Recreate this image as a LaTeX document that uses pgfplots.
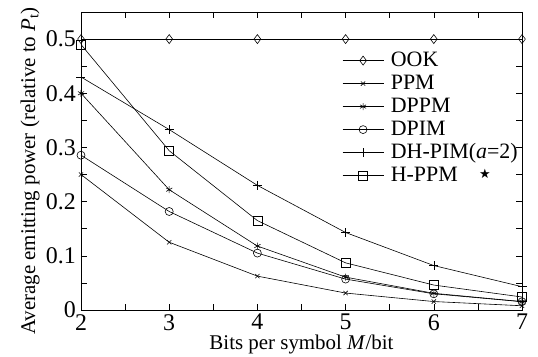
\documentclass[border=0pt]{standalone}
\usepackage{pgfplots}
\pgfplotsset{compat=1.18}
\usepackage{fontspec}
\setmainfont{Liberation Serif}
\newfontfamily\symfont{DejaVu Sans}
\begin{document}
\begin{tikzpicture}
\begin{axis}[
  scale only axis,
  width=441bp, height=298bp,
  xmin=2, xmax=7, ymin=0, ymax=0.55,
  xtick={2,3,4,5,6,7},
  minor xtick={2.5,3.5,4.5,5.5,6.5},
  ytick={0,0.1,0.2,0.3,0.4,0.5},
  minor ytick={0.05,0.15,0.25,0.35,0.45},
  yticklabels={0,0.1,0.2,0.3,0.4,0.5},
  tick align=inside,
  major tick length=6bp, minor tick length=6bp,
  tick style={black, line width=0.6pt},
  axis line style={line width=0.9pt},
  /pgf/number format/assume math mode=true,
  xticklabel style={font=\fontsize{24}{26}\selectfont, inner sep=2bp, yshift=-2bp},
  yticklabel style={font=\fontsize{24}{26}\selectfont, inner sep=0bp, xshift=-5bp},
  xlabel={Bits per symbol \textit{M}/bit},
  ylabel={Average emitting power (relative to \textit{P}\textsubscript{t})},
  xlabel style={font=\fontsize{21}{23}\selectfont, inner sep=1bp, yshift=-1.5bp},
  ylabel style={font=\fontsize{21}{23}\selectfont, inner sep=1bp, yshift=5bp, xshift=-10bp},
  every axis plot/.append style={black, line width=0.6pt, mark options={solid, line width=0.6pt}},
  legend cell align=left,
  legend style={draw=none, fill=none, at={(rel axis cs:0.592,0.872)}, anchor=north west,
     font=\fontsize{22}{24}\selectfont, inner sep=0pt, row sep=2.5bp, column sep=7bp,
     nodes={inner sep=0pt, text height=16bp, text depth=4.5bp}},
  legend image code/.code={\draw[mark repeat=2,mark phase=2,#1] plot coordinates {(0bp,0bp) (20.5bp,0bp) (41bp,0bp)};},
  clip=false,
]
\addplot[mark=diamond, mark size=4.5bp] coordinates {(2,0.5) (3,0.5) (4,0.5) (5,0.5) (6,0.5) (7,0.5)};
\addlegendentry{OOK}
\addplot[mark=x, mark size=3bp] coordinates {(2,0.25) (3,0.125) (4,0.0625) (5,0.03125) (6,0.0156) (7,0.0078)};
\addlegendentry{PPM}
\addplot[mark=asterisk, mark size=3.5bp] coordinates {(2,0.4) (3,0.222) (4,0.118) (5,0.0606) (6,0.0308) (7,0.0155)};
\addlegendentry{DPPM}
\addplot[mark=o, mark size=4bp] coordinates {(2,0.2857) (3,0.1818) (4,0.105) (5,0.057) (6,0.0299) (7,0.0153)};
\addlegendentry{DPIM}
\addplot[mark=+, mark size=4.5bp] coordinates {(2,0.43) (3,0.333) (4,0.23) (5,0.143) (6,0.082) (7,0.043)};
\addlegendentry{DH-PIM(\textit{a}=2)}
\addplot[mark=square, mark size=4.5bp] coordinates {(2,0.49) (3,0.294) (4,0.165) (5,0.087) (6,0.046) (7,0.024)};
\addlegendentry{H-PPM}
\node at (axis cs:6.58,0.251) {\symfont\fontsize{13}{14}\selectfont ★};
\end{axis}
\pgfresetboundingbox
\path ([shift={(-81bp,-47bp)}]current axis.south west) rectangle ([shift={(16bp,12bp)}]current axis.north east);
\end{tikzpicture}
\end{document}
